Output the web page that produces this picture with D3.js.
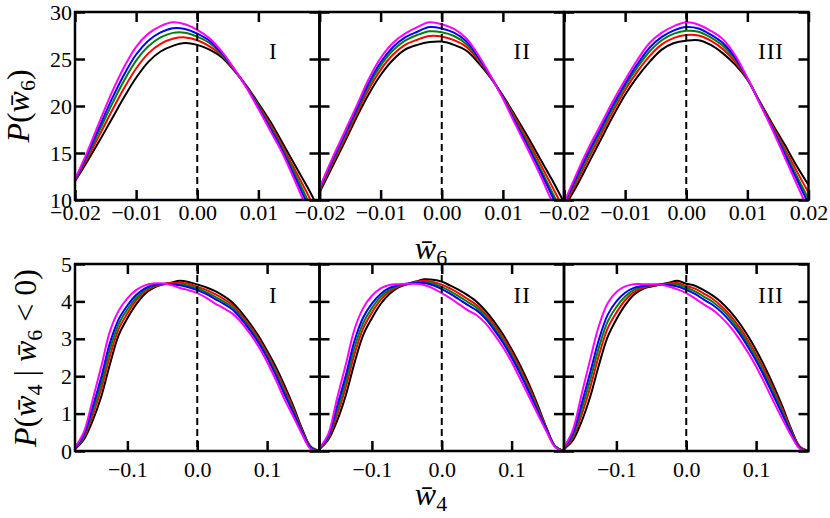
<!DOCTYPE html>
<html><head><meta charset="utf-8">
<script src="https://cdn.jsdelivr.net/npm/d3@7"></script>
<style>body{margin:0;background:#fff}svg{display:block}</style>
</head><body><svg id="chart" width="830" height="518"></svg>
<script>
// ---------- data ----------
const seriesNames = ["black", "red", "green", "blue", "magenta"];
const seriesColors = ["#000000", "#ff0000", "#008000", "#0000ff", "#ff00ff"];
const panelLabels = ["I", "II", "III"];

const xTop = [-0.020,-0.018,-0.016,-0.014,-0.012,-0.010,-0.008,-0.006,-0.004,-0.002,0.000,0.002,0.004,0.006,0.008,0.010,0.012,0.014,0.016,0.018,0.020];
const xTicksTop = [-0.02, -0.01, 0.00, 0.01, 0.02];
const yTicksTop = [10, 15, 20, 25, 30];

const topI_black   = [12.0,14.1,16.3,18.6,20.9,23.0,24.7,25.8,26.4,26.7,26.5,26.0,25.2,23.8,22.2,20.3,18.3,16.0,13.7,11.4,8.9];
const topI_red     = [12.06,14.4,16.9,19.44,21.86,23.99,25.6,26.61,27.15,27.3,27.0,26.35,25.4,23.85,22.15,20.1,18.0,15.65,13.2,10.7,8.0];
const topI_green   = [12.11,14.65,17.4,20.14,22.66,24.82,26.35,27.29,27.78,27.8,27.38,26.7,25.5,23.9,22.1,20.0,17.75,15.4,12.8,10.1,7.3];
const topI_blue    = [12.15,14.85,17.8,20.7,23.3,25.48,26.95,27.83,28.28,28.2,27.7,26.95,25.65,23.95,22.05,19.85,17.55,15.15,12.4,9.6,6.7];
const topI_magenta = [12.2,15.1,18.3,21.4,24.1,26.3,27.7,28.5,28.9,28.7,28.1,27.2,25.8,24.0,22.0,19.7,17.3,14.9,12.0,9.0,6.0];

const topII_black   = [10.8,13.4,16.0,18.7,21.2,23.3,24.9,26.0,26.5,26.8,26.85,26.5,25.9,24.6,23.0,21.1,19.0,16.8,14.5,12.2,9.75];
const topII_red     = [10.95,13.7,16.3,19.05,21.7,23.85,25.45,26.5,27.05,27.45,27.4,27.0,26.3,24.85,23.05,21.0,18.75,16.4,14.0,11.5,9.0];
const topII_green   = [11.1,13.9,16.6,19.35,22.1,24.3,25.9,26.95,27.55,27.95,27.85,27.45,26.6,25.05,23.1,20.95,18.5,16.1,13.55,10.9,8.35];
const topII_blue    = [11.2,14.1,16.8,19.6,22.4,24.65,26.25,27.3,27.9,28.4,28.25,27.8,26.9,25.2,23.15,20.9,18.3,15.8,13.2,10.5,7.85];
const topII_magenta = [11.3,14.3,17.1,19.9,22.8,25.1,26.7,27.7,28.4,28.9,28.7,28.2,27.2,25.4,23.2,20.8,18.1,15.5,12.8,9.9,7.2];

const topIII_black   = [9.2,11.4,13.9,16.4,18.9,21.2,23.1,24.7,26.0,26.7,26.95,27.0,26.5,25.6,24.4,22.8,20.5,18.2,16.0,13.7,11.6];
const topIII_red     = [9.35,11.8,14.4,16.9,19.4,21.7,23.65,25.3,26.55,27.25,27.55,27.5,26.95,26.05,24.7,22.85,20.45,18.0,15.6,13.15,10.8];
const topIII_green   = [9.5,12.1,14.8,17.3,19.8,22.1,24.1,25.8,27.0,27.7,28.0,27.9,27.3,26.4,24.95,22.9,20.4,17.85,15.3,12.65,10.1];
const topIII_blue    = [9.6,12.4,15.1,17.6,20.1,22.4,24.45,26.2,27.35,28.05,28.4,28.25,27.6,26.7,25.15,22.95,20.35,17.75,15.0,12.3,9.6];
const topIII_magenta = [9.7,12.7,15.5,18.0,20.5,22.8,24.9,26.7,27.8,28.5,28.9,28.65,28.0,27.1,25.4,23.0,20.3,17.6,14.7,11.8,8.9];

const xBottom = [-0.175,-0.1625,-0.15,-0.1375,-0.125,-0.1125,-0.1,-0.0875,-0.075,-0.0625,-0.05,-0.0375,-0.025,-0.0125,0,0.0125,0.025,0.0375,0.05,0.0625,0.075,0.0875,0.1,0.1125,0.125,0.1375,0.15,0.1625,0.175];
const xTicksBottom = [-0.1, 0.0, 0.1];
const yTicksBottom = [0, 1, 2, 3, 4, 5];

const botI_black   = [0.05,0.30,0.80,1.45,2.32,3.10,3.55,3.92,4.20,4.36,4.45,4.50,4.55,4.52,4.45,4.38,4.28,4.15,3.98,3.72,3.42,3.08,2.68,2.25,1.75,1.20,0.60,0.12,0.00];
const botI_red     = [0.06,0.35,0.94,1.65,2.54,3.26,3.68,4.02,4.26,4.39,4.46,4.49,4.50,4.47,4.39,4.31,4.20,4.07,3.91,3.65,3.35,3.01,2.61,2.16,1.66,1.13,0.56,0.10,0.00];
const botI_green   = [0.07,0.39,1.05,1.81,2.72,3.39,3.79,4.09,4.30,4.41,4.46,4.47,4.46,4.42,4.35,4.25,4.13,4.00,3.85,3.60,3.30,2.95,2.55,2.09,1.58,1.07,0.53,0.09,0.00];
const botI_blue    = [0.08,0.43,1.16,1.97,2.89,3.52,3.89,4.17,4.35,4.44,4.47,4.46,4.43,4.38,4.30,4.20,4.07,3.94,3.79,3.54,3.24,2.90,2.49,2.02,1.51,1.02,0.50,0.07,0.00];
const botI_magenta = [0.10,0.50,1.35,2.25,3.20,3.75,4.08,4.30,4.43,4.48,4.48,4.44,4.36,4.30,4.22,4.10,3.95,3.82,3.68,3.45,3.15,2.80,2.38,1.90,1.38,0.92,0.45,0.05,0.00];

const botII_black   = [0.05,0.30,0.80,1.48,2.35,3.10,3.55,3.93,4.20,4.37,4.46,4.53,4.59,4.58,4.53,4.42,4.30,4.16,3.99,3.75,3.46,3.12,2.72,2.28,1.78,1.22,0.62,0.13,0.00];
const botII_red     = [0.06,0.34,0.95,1.69,2.58,3.28,3.70,4.04,4.26,4.39,4.46,4.52,4.55,4.52,4.45,4.34,4.21,4.06,3.90,3.67,3.38,3.04,2.64,2.19,1.70,1.16,0.60,0.12,0.00];
const botII_green   = [0.06,0.37,1.07,1.85,2.76,3.42,3.82,4.12,4.31,4.41,4.46,4.50,4.52,4.48,4.39,4.27,4.13,3.98,3.83,3.60,3.31,2.97,2.57,2.12,1.63,1.11,0.58,0.12,0.00];
const botII_blue    = [0.07,0.40,1.19,2.01,2.94,3.57,3.94,4.20,4.36,4.43,4.47,4.49,4.49,4.43,4.33,4.20,4.05,3.90,3.76,3.54,3.24,2.90,2.50,2.05,1.57,1.06,0.56,0.11,0.00];
const botII_magenta = [0.08,0.45,1.40,2.30,3.25,3.82,4.15,4.35,4.44,4.46,4.47,4.47,4.44,4.35,4.22,4.08,3.92,3.76,3.63,3.42,3.12,2.78,2.38,1.92,1.45,0.98,0.52,0.10,0.00];

const botIII_black   = [0.05,0.28,0.78,1.45,2.30,3.05,3.52,3.90,4.18,4.33,4.40,4.45,4.50,4.55,4.47,4.42,4.30,4.16,3.98,3.74,3.45,3.10,2.70,2.25,1.75,1.20,0.60,0.12,0.00];
const botIII_red     = [0.06,0.35,0.96,1.70,2.56,3.28,3.70,4.03,4.25,4.36,4.42,4.45,4.48,4.49,4.41,4.34,4.21,4.07,3.88,3.64,3.34,2.99,2.59,2.14,1.64,1.12,0.56,0.11,0.00];
const botIII_green   = [0.07,0.40,1.10,1.90,2.77,3.46,3.85,4.13,4.31,4.39,4.43,4.45,4.46,4.45,4.36,4.27,4.13,3.99,3.80,3.56,3.26,2.90,2.50,2.05,1.56,1.05,0.52,0.09,0.00];
const botIII_blue    = [0.08,0.46,1.25,2.10,2.98,3.64,4.00,4.23,4.36,4.41,4.44,4.45,4.44,4.40,4.31,4.20,4.05,3.91,3.72,3.47,3.17,2.81,2.41,1.96,1.47,0.98,0.48,0.08,0.00];
const botIII_magenta = [0.10,0.55,1.50,2.45,3.35,3.95,4.25,4.40,4.46,4.46,4.46,4.45,4.40,4.32,4.22,4.08,3.92,3.78,3.58,3.33,3.02,2.66,2.26,1.80,1.32,0.86,0.42,0.06,0.00];

// ---------- build ----------
const topSeries = [
  [topI_black, topI_red, topI_green, topI_blue, topI_magenta],
  [topII_black, topII_red, topII_green, topII_blue, topII_magenta],
  [topIII_black, topIII_red, topIII_green, topIII_blue, topIII_magenta]
];
const botSeries = [
  [botI_black, botI_red, botI_green, botI_blue, botI_magenta],
  [botII_black, botII_red, botII_green, botII_blue, botII_magenta],
  [botIII_black, botIII_red, botIII_green, botIII_blue, botIII_magenta]
];

const svg = d3.select("#chart");
const colLeft = [75, 319.5, 564];
const panelW = 244.5;
const rows = [
  { top: 12, h: 188, xDom: [-0.02, 0.02], yDom: [10, 30], xs: xTop, series: topSeries,
    xTicks: xTicksTop, yTicks: yTicksTop, fmt: d3.format(".2f"), pad: 4, labelBase: 47 },
  { top: 264, h: 187, xDom: [-0.175, 0.175], yDom: [0, 5], xs: xBottom, series: botSeries,
    xTicks: xTicksBottom, yTicks: yTicksBottom, fmt: d3.format(".1f"), pad: 10, labelBase: 39 }
];

const tickFont = "'Liberation Serif', 'DejaVu Serif', serif";
const defs = svg.append("defs");

rows.forEach((row, ri) => {
  colLeft.forEach((x0, ci) => {
    const x = d3.scaleLinear().domain(row.xDom).range([x0, x0 + panelW]);
    const y = d3.scaleLinear().domain(row.yDom).range([row.top + row.h, row.top]);
    const clipId = `clip-${ri}-${ci}`;
    defs.append("clipPath").attr("id", clipId).append("rect")
      .attr("x", x0).attr("y", row.top).attr("width", panelW).attr("height", row.h);
    const g = svg.append("g");
    const plot = g.append("g").attr("clip-path", `url(#${clipId})`);
    const line = d3.line().x((d, i) => x(row.xs[i])).y(d => y(d)).curve(d3.curveCatmullRom.alpha(0.5));
    row.series[ci].forEach((vals, si) => {
      plot.append("path").attr("d", line(vals)).attr("fill", "none")
        .attr("stroke", seriesColors[si]).attr("stroke-width", 2)
        .attr("stroke-linejoin", "round").attr("class", "series-" + seriesNames[si]);
    });
    // dashed zero line
    plot.append("line").attr("x1", x(0)).attr("x2", x(0)).attr("y1", row.top).attr("y2", row.top + row.h)
      .attr("stroke", "#000").attr("stroke-width", 2).attr("stroke-dasharray", "7,4");

    // axes with inward ticks
    const isLastCol = ci === 2;
    const bottomFmt = d => (!isLastCol && d === row.xDom[1]) ? "" : row.fmt(d);
    const axB = g.append("g").attr("transform", `translate(0,${row.top + row.h})`)
      .call(d3.axisBottom(x).tickValues(row.xTicks).tickSize(-10).tickPadding(row.pad).tickFormat(bottomFmt));
    const axT = g.append("g").attr("transform", `translate(0,${row.top})`)
      .call(d3.axisTop(x).tickValues(row.xTicks).tickSize(-10).tickFormat(""));
    const axL = g.append("g").attr("transform", `translate(${x0},0)`)
      .call(d3.axisLeft(y).tickValues(row.yTicks).tickSize(-10).tickPadding(3)
        .tickFormat(ci === 0 ? d3.format("d") : ""));
    const axR = g.append("g").attr("transform", `translate(${x0 + panelW},0)`)
      .call(d3.axisRight(y).tickValues(row.yTicks).tickSize(-10).tickFormat(""));
    [axB, axT, axL, axR].forEach(a => {
      a.select(".domain").remove();
      a.selectAll(".tick line").attr("stroke", "#000").attr("stroke-width", 2.5);
      a.selectAll(".tick text").attr("font-family", tickFont).attr("font-size", 22).attr("fill", "#000");
    });
    // frame
    g.append("rect").attr("x", x0).attr("y", row.top).attr("width", panelW).attr("height", row.h)
      .attr("fill", "none").attr("stroke", "#000").attr("stroke-width", 2.5);
    // panel label
    g.append("text").attr("x", x0 + 194).attr("y", row.top + row.labelBase)
      .attr("font-family", tickFont).attr("font-size", 23).attr("letter-spacing", 1)
      .attr("fill", "#000").text(panelLabels[ci]);
  });
});

// ---------- axis labels ----------
const labelFont = "'Liberation Serif', 'DejaVu Serif', serif";
function mathText(parent, parts) {
  const t = parent.append("text").attr("font-family", labelFont).attr("font-size", 32).attr("fill", "#000");
  let shift = 0;
  parts.forEach(p => {
    const ts = t.append("tspan").text(p.t);
    if (p.it) ts.attr("font-style", "italic");
    const want = p.sub ? 6 : 0;
    if (want !== shift) { ts.attr("dy", want - shift); shift = want; }
    if (p.sub) ts.attr("font-size", 22);
  });
  return t;
}
mathText(svg.append("g").attr("transform", "translate(431,259)"),
  [{ t: "w\u0304", it: true }, { t: "6", sub: true }]).attr("text-anchor", "middle");
mathText(svg.append("g").attr("transform", "translate(431,505)"),
  [{ t: "w\u0304", it: true }, { t: "4", sub: true }]).attr("text-anchor", "middle");
mathText(svg.append("g").attr("transform", "translate(29,106) rotate(-90)"),
  [{ t: "P", it: true }, { t: "(" }, { t: "w\u0304", it: true }, { t: "6", sub: true }, { t: ")" }]).attr("text-anchor", "middle");
mathText(svg.append("g").attr("transform", "translate(36,358) rotate(-90)"),
  [{ t: "P", it: true }, { t: "(" }, { t: "w\u0304", it: true }, { t: "4", sub: true },
   { t: " | " }, { t: "w\u0304", it: true }, { t: "6", sub: true }, { t: " < 0)" }]).attr("text-anchor", "middle");
</script></body></html>
